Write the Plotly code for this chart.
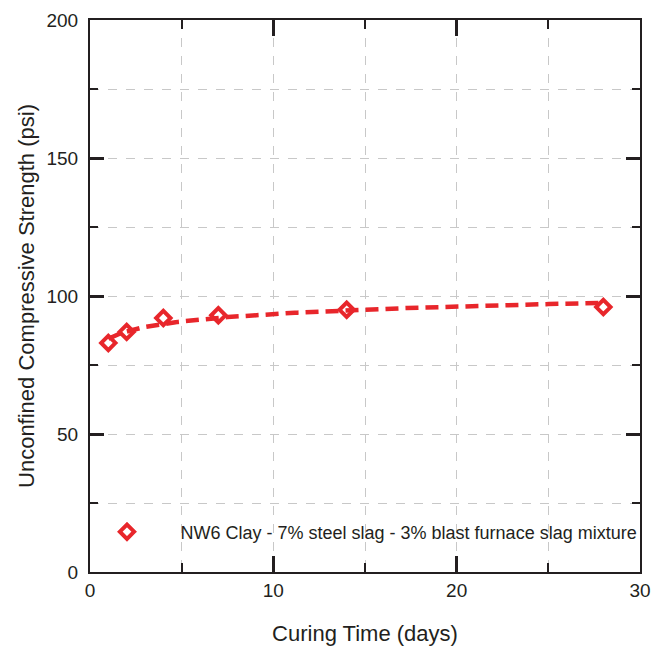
import numpy as np
import plotly.graph_objects as go

days = [1, 2, 4, 7, 14, 28]
strength = [83, 87, 92, 93, 95, 96]
series_name = "NW6 Clay - 7% steel slag - 3% blast furnace slag mixture"
x_ticks = [0, 10, 20, 30]
y_ticks = [0, 50, 100, 150, 200]
x_range = [0, 30]
y_range = [0, 200]

# logarithmic trend line fitted to the measured points
b, a = np.polyfit(np.log(days), strength, 1)
x_fit = np.linspace(min(days), max(days), 200)
y_fit = a + b * np.log(x_fit)

RED = "#e8262b"
TXT = "#231f20"
GRID = "#c8c8c8"
AX = "#231f20"

fig = go.Figure()
fig.add_trace(go.Scatter(x=x_fit, y=y_fit, mode="lines", showlegend=False,
                         line=dict(color=RED, width=4.5, dash="13px,7px"),
                         hoverinfo="skip"))
fig.add_trace(go.Scatter(x=days, y=strength, mode="markers", name=series_name,
                         marker=dict(symbol="diamond-open", size=11, color=RED,
                                     line=dict(width=4, color=RED))))

def minor(dt, ln):
    return dict(dtick=dt, tick0=0, ticks="inside", ticklen=ln, tickwidth=2,
                tickcolor=AX, showgrid=True, gridcolor=GRID, griddash="dash",
                gridwidth=1)

fig.update_layout(
    width=653, height=648,
    margin=dict(l=90, r=13, t=20, b=76),
    paper_bgcolor="white", plot_bgcolor="white",
    font=dict(family="Liberation Sans, Arial, sans-serif", color=TXT),
    xaxis=dict(range=x_range, tickvals=x_ticks, automargin=False,
               showline=True, linecolor=AX, linewidth=2, mirror="ticks",
               ticks="inside", ticklen=16, tickwidth=2.5, tickcolor=AX,
               showgrid=True, gridcolor=GRID, griddash="dash", gridwidth=1,
               zeroline=False, tickfont=dict(size=19, color=TXT),
               title=dict(text="Curing Time (days)", font=dict(size=22, color=TXT),
                          standoff=26),
               minor=minor(5, 9)),
    yaxis=dict(range=y_range, tickvals=y_ticks, automargin=False,
               showline=True, linecolor=AX, linewidth=2, mirror="ticks",
               ticks="inside", ticklen=14, tickwidth=2.5, tickcolor=AX,
               ticklabelstandoff=6,
               showgrid=True, gridcolor=GRID, griddash="dash", gridwidth=1,
               zeroline=False, tickfont=dict(size=19, color=TXT),
               title=dict(text="Unconfined Compressive Strength (psi)",
                          font=dict(size=22, color=TXT), standoff=6),
               minor=minor(25, 8)),
    legend=dict(x=-0.03, y=0.0725, xanchor="left", yanchor="middle",
                bgcolor="rgba(0,0,0,0)", font=dict(size=18, color=TXT),
                itemwidth=97),
)

fig.write_html("out.html")
